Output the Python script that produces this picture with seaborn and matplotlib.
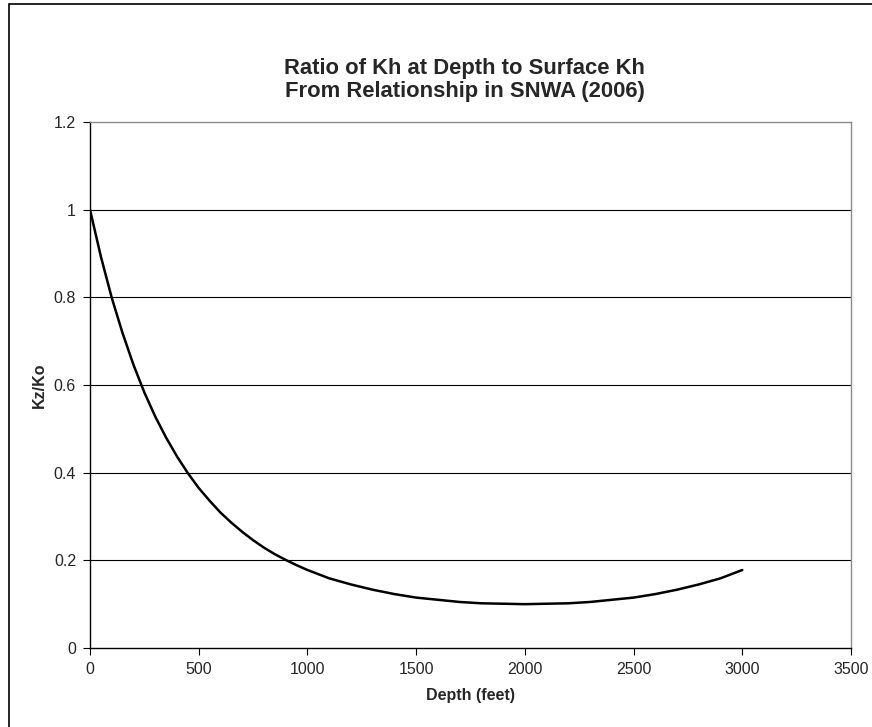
import matplotlib
matplotlib.use("Agg")
import matplotlib.pyplot as plt
import seaborn as sns
import pandas as pd
from matplotlib.patches import Rectangle

depth_ft = [0, 50, 100, 150, 200, 250, 300, 350, 400, 450, 500, 550, 600, 650, 700,
            750, 800, 850, 900, 950, 1000, 1100, 1200, 1300, 1400, 1500, 1600, 1700,
            1800, 1900, 2000, 2100, 2200, 2300, 2400, 2500, 2600, 2700, 2800, 2900, 3000]
kz_ko = [1.000, 0.893, 0.799, 0.718, 0.646, 0.583, 0.528, 0.480, 0.437, 0.399, 0.365,
         0.336, 0.309, 0.286, 0.265, 0.246, 0.229, 0.214, 0.201, 0.189, 0.178, 0.159,
         0.145, 0.133, 0.123, 0.115, 0.110, 0.105, 0.102, 0.101, 0.100, 0.101, 0.102,
         0.105, 0.110, 0.115, 0.123, 0.133, 0.145, 0.159, 0.178]
x_ticks = [0, 500, 1000, 1500, 2000, 2500, 3000, 3500]
y_ticks = [0, 0.2, 0.4, 0.6, 0.8, 1.0, 1.2]
y_tick_labels = ["0", "0.2", "0.4", "0.6", "0.8", "1", "1.2"]

df = pd.DataFrame({"Depth (feet)": depth_ft, "Kz/Ko": kz_ko})

sns.set_style("white")
plt.rcParams["font.family"] = ["Liberation Sans", "DejaVu Sans"]

W, H = 872, 727
fig = plt.figure(figsize=(W / 100, H / 100), dpi=100)
ax = fig.add_axes([90 / W, (H - 648) / H, (851 - 90) / W, (648 - 122) / H])

sns.lineplot(data=df, x="Depth (feet)", y="Kz/Ko", ax=ax, color="black", linewidth=1.8)

ax.set_xlim(0, 3500)
ax.set_ylim(0, 1.2)
ax.set_xticks(x_ticks)
ax.set_xticklabels([str(t) for t in x_ticks], fontsize=11.5)
ax.set_yticks(y_ticks)
ax.set_yticklabels(y_tick_labels, fontsize=11.5)

for v in y_ticks[1:-1]:
    ax.axhline(v, color="black", linewidth=0.8, zorder=0)

for side in ["top", "right"]:
    ax.spines[side].set_color("#8c8c8c")
    ax.spines[side].set_linewidth(1.0)
for side in ["left", "bottom"]:
    ax.spines[side].set_color("black")
    ax.spines[side].set_linewidth(1.0)

ax.tick_params(axis="both", which="major", direction="out", length=5, width=0.8,
               color="black", pad=5, bottom=True, left=True)

ax.set_xlabel("Depth (feet)", fontsize=11.5, fontweight="bold", labelpad=8)
ax.set_ylabel("Kz/Ko", fontsize=11.5, fontweight="bold", labelpad=5)

fig.text(0.533, (H - 80) / H, "Ratio of Kh at Depth to Surface Kh\nFrom Relationship in SNWA (2006)",
         ha="center", va="center", fontsize=15.8, fontweight="bold", linespacing=1.12)

fig.patches.append(Rectangle((9 / W, -0.1), 1.2, (H - 4) / H + 0.1, transform=fig.transFigure,
                             fill=False, edgecolor="black", linewidth=1.2))

fig.savefig("out.png", dpi=100)
